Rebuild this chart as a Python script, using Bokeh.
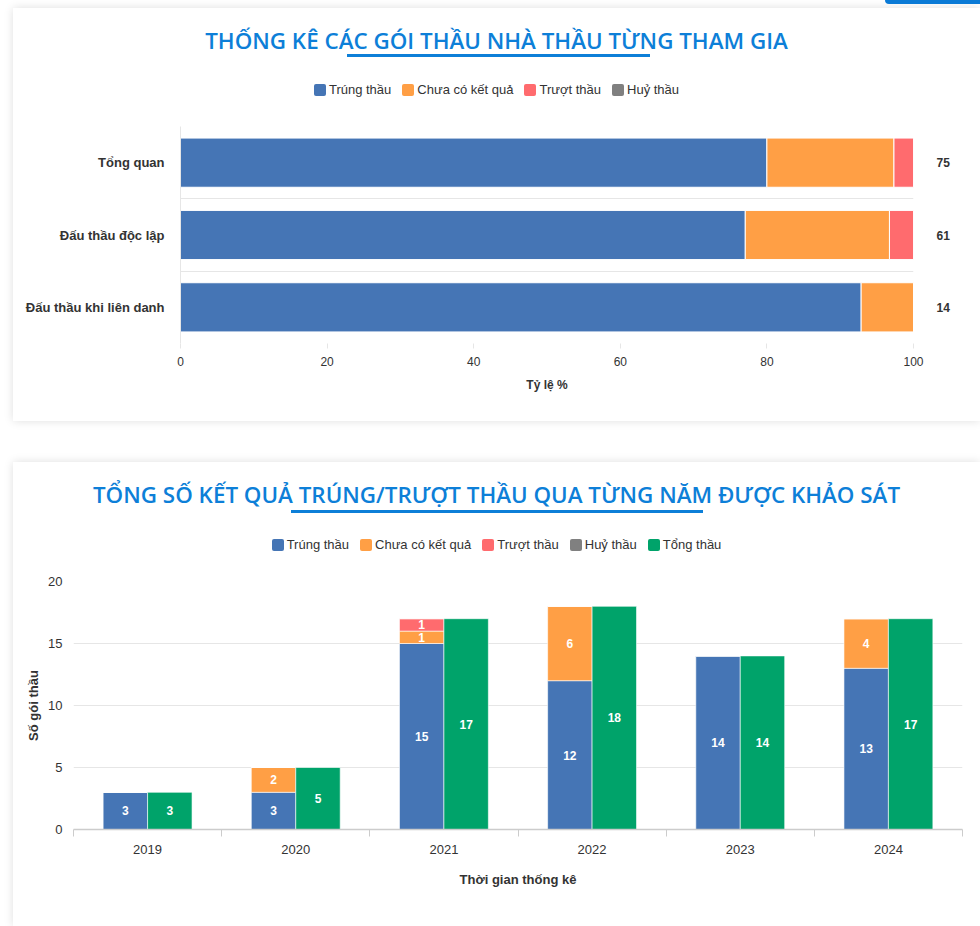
from bokeh.plotting import figure
from bokeh.models import (Range1d, FixedTicker, LinearAxis, Div, ColumnDataSource)
from bokeh.layouts import column
from bokeh.embed import file_html
from bokeh.resources import INLINE
from bokeh.core.properties import value

# ---------------- data ----------------
series_names = ["Trúng thầu", "Chưa có kết quả", "Trượt thầu", "Huỷ thầu"]
series_colors = ["#4575b5", "#ff9f45", "#ff6b6e", "#808080"]
total_name = "Tổng thầu"
total_color = "#00a36a"

# chart 1
groups = ["Tổng quan", "Đấu thầu độc lập", "Đấu thầu khi liên danh"]
trung1 = [60, 47, 13]
chua1 = [13, 12, 1]
truot1 = [2, 2, 0]
huy1 = [0, 0, 0]
totals1 = [75, 61, 14]

# chart 2
years = ["2019", "2020", "2021", "2022", "2023", "2024"]
trung2 = [3, 3, 15, 12, 14, 13]
chua2 = [0, 2, 1, 6, 0, 4]
truot2 = [0, 0, 1, 0, 0, 0]
huy2 = [0, 0, 0, 0, 0, 0]
tong2 = [3, 5, 17, 18, 14, 17]

FONT = "Liberation Sans"
TITLE_COLOR = "#0d7fd8"
GRID = "#e6e6e6"


def header_div(text, ul_left, ul_width, ul_top, names, colors, leg_top, extra=""):
    items = "".join(
        f'<span style="display:inline-flex;align-items:center;margin:0 5.5px;">'
        f'<span style="display:inline-block;width:12px;height:12px;border-radius:2px;'
        f'background:{c};margin-right:3px;"></span>{nm}</span>'
        for nm, c in zip(names, colors)
    )
    html = (
        '<div style="position:relative;width:967px;height:100px;">'
        '<div style="position:absolute;left:0;top:19px;width:967px;text-align:center;'
        "font-family:'Open Sans';font-weight:600;font-size:22.4px;line-height:28px;white-space:nowrap;"
        f'color:{TITLE_COLOR};">{text}</div>'
        f'<div style="position:absolute;left:{ul_left}px;top:{ul_top}px;width:{ul_width}px;'
        f'height:3px;background:{TITLE_COLOR};"></div>'
        f'<div style="position:absolute;left:0;top:{leg_top}px;width:967px;text-align:center;'
        f"font-family:'{FONT}';font-size:13px;line-height:16px;color:#333333;white-space:nowrap;\">"
        f'{items}</div>'
        f'{extra}</div>'
    )
    return Div(text=html, width=967, height=100, margin=0)


# ---------------- chart 1 ----------------
n1 = len(groups)
ypos = [2 * (n1 - 1 - i) + 1 for i in range(n1)]
bounds1 = list(range(0, 2 * n1 + 1, 2))
keys = ["trung", "chua", "truot", "huy"]
raw1 = [trung1, chua1, truot1, huy1]
src1 = ColumnDataSource(dict(
    y=ypos,
    **{k: [v / t * 100 for v, t in zip(arr, totals1)] for k, arr in zip(keys, raw1)}
))

p1 = figure(width=967, height=313, x_range=Range1d(0, 100), y_range=Range1d(0, 2 * n1),
            min_border_left=167, min_border_right=67, min_border_top=18, min_border_bottom=78,
            output_backend="svg", toolbar_location=None, margin=0,
            background_fill_color="white", border_fill_color="white")
p1.outline_line_color = None
p1.hbar_stack(keys, y="y", height=1.36, fill_color=series_colors, line_color="white",
              line_width=1, source=src1)

p1.xgrid.visible = False
p1.ygrid.ticker = FixedTicker(ticks=bounds1)
p1.ygrid.grid_line_color = GRID

xa = p1.xaxis[0]
xa.ticker = FixedTicker(ticks=[0, 20, 40, 60, 80, 100])
xa.axis_line_color = None
xa.major_tick_out = 5
xa.major_tick_in = 0
xa.major_tick_line_color = GRID
xa.minor_tick_line_color = None
xa.major_label_standoff = 8
xa.major_label_text_font = FONT
xa.major_label_text_font_size = "12px"
xa.major_label_text_color = "#333333"
xa.axis_label = "Tỷ lệ %"
xa.axis_label_text_font = FONT
xa.axis_label_text_font_size = "12px"
xa.axis_label_text_font_style = "bold"
xa.axis_label_text_color = "#333333"
xa.axis_label_standoff = 9

ya = p1.yaxis[0]
ya.ticker = FixedTicker(ticks=ypos)
ya.major_label_overrides = {y: g for y, g in zip(ypos, groups)}
ya.axis_line_color = GRID
ya.major_tick_line_color = None
ya.minor_tick_line_color = None
ya.major_label_standoff = 10
ya.major_label_text_font = FONT
ya.major_label_text_font_size = "13px"
ya.major_label_text_font_style = "bold"
ya.major_label_text_color = "#333333"

ra = LinearAxis(ticker=FixedTicker(ticks=ypos),
                major_label_overrides={y: str(t) for y, t in zip(ypos, totals1)},
                axis_line_color=None, major_tick_line_color=None, minor_tick_line_color=None,
                major_label_standoff=17, major_label_text_font=FONT,
                major_label_text_font_size="12px", major_label_text_font_style="bold",
                major_label_text_color="#333333")
p1.add_layout(ra, "right")

# ---------------- chart 2 ----------------
n2 = len(years)
xc = [2 * i + 1 for i in range(n2)]
bounds2 = list(range(0, 2 * n2 + 1, 2))
raw2 = [trung2, chua2, truot2, huy2]
src2 = ColumnDataSource(dict(
    xl=[x - 0.3 for x in xc], xr=[x + 0.3 for x in xc], tong=tong2,
    **{k: arr for k, arr in zip(keys, raw2)}
))

p2 = figure(width=967, height=364, x_range=Range1d(0, 2 * n2), y_range=Range1d(0, 20),
            min_border_left=60, min_border_right=18, min_border_top=19, min_border_bottom=97,
            output_backend="svg", toolbar_location=None, margin=0,
            background_fill_color="white", border_fill_color="white")
p2.outline_line_color = None
p2.vbar_stack(keys, x="xl", width=0.6, fill_color=series_colors, line_color="white",
              line_alpha=0.6, line_width=1, source=src2)
p2.vbar(x="xr", top="tong", width=0.6, fill_color=total_color, line_color="white",
        line_alpha=0.6, line_width=1, source=src2)

# data labels (segment centres)
lx, ly, lt = [], [], []
for i in range(n2):
    base = 0
    for arr in raw2:
        v = arr[i]
        if v > 0:
            lx.append(xc[i] - 0.3); ly.append(base + v / 2); lt.append(str(v))
        base += v
    lx.append(xc[i] + 0.3); ly.append(tong2[i] / 2); lt.append(str(tong2[i]))
p2.text(x=lx, y=ly, text=lt, text_align="center", text_baseline="middle",
        text_color="white", text_font=value(FONT), text_font_size="12px",
        text_font_style="bold")

p2.xgrid.visible = False
p2.ygrid.ticker = FixedTicker(ticks=[0, 5, 10, 15, 20])
p2.ygrid.grid_line_color = GRID

xb = p2.xaxis[0]
xb.ticker = FixedTicker(ticks=xc, minor_ticks=bounds2)
xb.major_label_overrides = {x: yv for x, yv in zip(xc, years)}
xb.axis_line_color = "#cccccc"
xb.axis_line_width = 1.5
xb.major_tick_line_color = None
xb.major_tick_out = 0
xb.minor_tick_line_color = "#cccccc"
xb.minor_tick_out = 7
xb.minor_tick_in = 0
xb.major_label_standoff = 8
xb.major_label_text_font = FONT
xb.major_label_text_font_size = "13px"
xb.major_label_text_color = "#333333"
xb.axis_label = "Thời gian thống kê"
xb.axis_label_text_font = FONT
xb.axis_label_text_font_size = "13px"
xb.axis_label_text_font_style = "bold"
xb.axis_label_text_color = "#333333"
xb.axis_label_standoff = 15

yb = p2.yaxis[0]
yb.ticker = FixedTicker(ticks=[0, 5, 10, 15, 20])
yb.axis_line_color = None
yb.major_tick_line_color = None
yb.minor_tick_line_color = None
yb.major_label_standoff = 5
yb.major_label_text_font = FONT
yb.major_label_text_font_size = "13px"
yb.major_label_text_color = "#333333"
yb.axis_label = "Số gói thầu"
yb.axis_label_text_font = FONT
yb.axis_label_text_font_size = "13px"
yb.axis_label_text_font_style = "bold"
yb.axis_label_text_color = "#333333"
yb.axis_label_standoff = 4

# ---------------- layout ----------------
btn_html = ('<div style="position:absolute;left:872px;top:-8px;width:95px;height:4px;'
            'background:#0a7ad6;border-bottom-left-radius:4px;"></div>')
d1 = header_div("THỐNG KÊ CÁC GÓI THẦU NHÀ THẦU TỪNG THAM GIA", 334, 303, 46,
                series_names, series_colors, 74, btn_html)
d2 = header_div("TỔNG SỐ KẾT QUẢ TRÚNG/TRƯỢT THẦU QUA TỪNG NĂM ĐƯỢC KHẢO SÁT", 278, 412, 48,
                series_names + [total_name], series_colors + [total_color], 75)

card_style = {"background-color": "white", "box-shadow": "0 0 9px rgba(0,0,0,0.13)"}
card1 = column(d1, p1, margin=(8, 0, 0, 13), styles=card_style)
card2 = column(d2, p2, margin=(41, 0, 0, 13), styles=card_style)
root = column(card1, card2, margin=0, styles={"background-color": "white"})

open("out.html", "w").write(file_html(root, INLINE))
